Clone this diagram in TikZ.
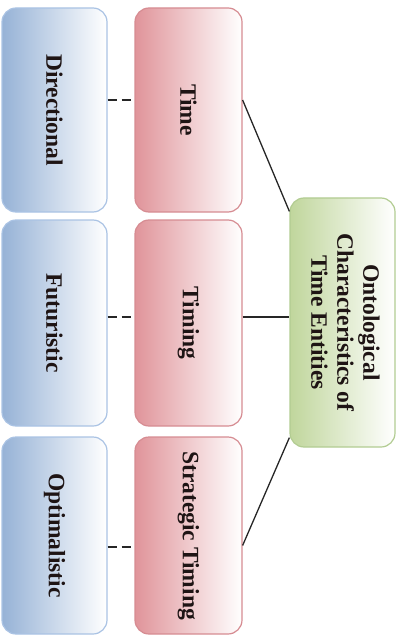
\documentclass[tikz,border=0pt]{standalone}
\usepackage{fontspec}
\setmainfont{Liberation Serif}
\usepackage{graphicx}
\usetikzlibrary{calc}

\definecolor{blueFill}{RGB}{150,178,214}
\definecolor{blueEdge}{RGB}{170,195,228}
\definecolor{redFill}{RGB}{224,148,154}
\definecolor{redEdge}{RGB}{214,140,146}
\definecolor{greenFill}{RGB}{192,214,156}
\definecolor{greenEdge}{RGB}{178,204,146}
\definecolor{inkText}{RGB}{30,20,20}

\tikzset{
  box/.style={rounded corners=14pt, line width=1.2pt, inner sep=0pt,
    right color=white, text=inkText,
    font=\fontsize{23.5}{26}\selectfont\bfseries},
  bluebox/.style={box, draw=blueEdge, left color=blueFill, minimum width=105pt},
  redbox/.style={box, draw=redEdge, left color=redFill, minimum width=107pt},
  greenbox/.style={box, draw=greenEdge, left color=greenFill,
    minimum width=105pt, minimum height=249pt},
  conn/.style={draw=black!85, line width=1.3pt},
  link/.style={draw=black!85, line width=1.8pt, dash pattern=on 9pt off 5pt}
}

\newcommand{\vtext}[1]{\rotatebox{-90}{#1}}

\begin{document}
\begin{tikzpicture}[x=1pt,y=1pt]
  \useasboundingbox (0,0) rectangle (406,-636);

  % left column: qualities
  \node[bluebox, minimum height=204pt] (dir) at (54.5,-110) {\vtext{Directional}};
  \node[bluebox, minimum height=206pt] (fut) at (54.5,-323) {\vtext{Futuristic}};
  \node[bluebox, minimum height=197pt] (opt) at (54.5,-535.5) {\vtext{Optimalistic}};

  % middle column: time entities
  \node[redbox, minimum height=204pt] (time) at (188.5,-110) {\vtext{Time}};
  \node[redbox, minimum height=206pt] (timing) at (188.5,-323) {\vtext{Timing}};
  \node[redbox, minimum height=197pt] (strat) at (188.5,-535.5) {\vtext{Strategic Timing}};

  % root concept
  \node[greenbox] (root) at (342.5,-322.5)
    {\vtext{\begin{tabular}{@{}c@{}}Ontological\\Characteristics of\\Time Entities\end{tabular}}};

  % tree connectors
  \draw[conn] ($(time.east)+(0,10)$) -- ($(root.north west)+(0,-14)$);
  \draw[conn] ($(timing.east)+(0,6)$) -- ($(timing.east -| root.west)+(0,6)$);
  \draw[conn] ($(strat.east)+(0,-10)$) -- ($(root.south west)+(0,10)$);

  % dashed associations
  \draw[link] ($(dir.east)+(0,10)$) -- ($(time.west)+(0,10)$);
  \draw[link] ($(fut.east)+(0,6)$) -- ($(timing.west)+(0,6)$);
  \draw[link] ($(opt.east)+(0,-11.5)$) -- ($(strat.west)+(0,-11.5)$);
\end{tikzpicture}
\end{document}
